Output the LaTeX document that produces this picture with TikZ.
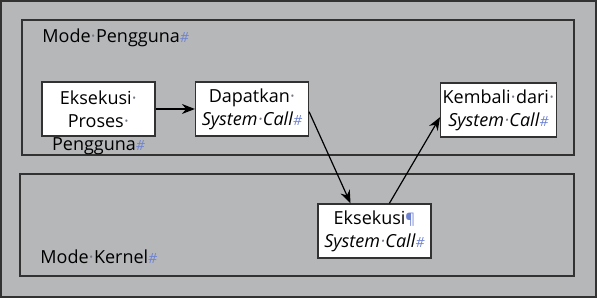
\documentclass[tikz,border=0pt]{standalone}
\usepackage{fontspec}
\setmainfont{Open Sans}
\usepackage{xcolor}
\usepackage{tikz}
\usetikzlibrary{positioning,arrows.meta,calc}
\definecolor{bggray}{RGB}{181,183,185}
\definecolor{framegray}{RGB}{50,50,50}
\definecolor{markblue}{RGB}{110,130,210}
\definecolor{dotgray}{RGB}{115,118,135}
\newcommand{\wsp}{\makebox[0.3em]{\color{dotgray}\textperiodcentered}}
\newcommand{\eoc}{{\fontsize{7}{7}\selectfont\itshape\color{markblue}\#}}
\newcommand{\parmark}{{\fontsize{7.5}{7.5}\selectfont\color{markblue}\P}}
\tikzset{
  modeband/.style={draw=framegray, line width=0.6pt},
  stepbox/.style={draw=framegray, fill=white, line width=0.6pt, minimum width=56.5pt,
                  minimum height=27pt, inner sep=1pt, align=center,
                  font=\fontsize{9}{11.5}\selectfont},
  modelbl/.style={font=\fontsize{9}{11}\selectfont, anchor=west, inner sep=0pt},
  overflow/.style={font=\fontsize{9}{11}\selectfont, inner sep=0.5pt},
  edge/.style={-{Stealth[length=6.5pt, width=5pt]}, line width=0.6pt, black}
}
\begin{document}
\begin{tikzpicture}[x=0.5pt, y=0.5pt]
\useasboundingbox (0,0) rectangle (597,298);
\fill[bggray] (0,0) rectangle (597,298);
\draw[framegray, line width=1pt] (1,1) rectangle (596,297);
\draw[modeband] (22,143) rectangle (574,278);
\draw[modeband] (20,22) rectangle (574,124);
\node[modelbl] (user) at (42,260) {Mode\wsp Pengguna\eoc};
\node[modelbl] (kernel) at (40,41) {Mode\wsp Kernel\eoc};
\node[stepbox, label={[overflow]below:Pengguna\eoc}] (exec) at (98.5,189) {Eksekusi\wsp\\Proses\wsp};
\node[stepbox] (get) at (252,189) {Dapatkan\wsp\\\textit{System\wsp Call}\eoc};
\node[stepbox] (back) at (498.5,188) {Kembali\wsp dari\wsp\\\textit{System\wsp Call}\eoc};
\node[stepbox] (sys) at (374.5,67) {Eksekusi\parmark\\\textit{System\wsp Call}\eoc};
\draw[edge] (exec.east) -- (get.west);
\draw[edge] ($(get.south east)!0.45!(get.north east)$) -- ($(sys.north west)!0.29!(sys.north east)$);
\draw[edge] ($(sys.north west)!0.63!(sys.north east)$) -- ($(back.south west)!0.37!(back.north west)$);
\end{tikzpicture}
\end{document}
